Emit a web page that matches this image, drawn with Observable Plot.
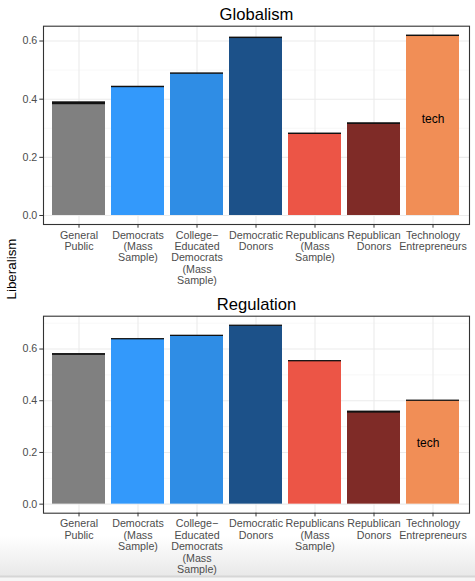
<!DOCTYPE html>
<html>
<head>
<meta charset="utf-8">
<script src="https://cdn.jsdelivr.net/npm/d3@7"></script>
<script src="https://cdn.jsdelivr.net/npm/@observablehq/plot@0.6"></script>
<style>
  html, body { margin: 0; padding: 0; }
  body {
    width: 475px; height: 581px; overflow: hidden;
    background: linear-gradient(to bottom, #ffffff 0px, #ffffff 536px, #e9e9e9 575px, #d6d6d6 576px, #d6d6d6 577px, #f6f6f6 578px, #f6f6f6 581px);
    font-family: "Liberation Sans", Arial, Helvetica, sans-serif;
  }
  #wrap { position: relative; width: 475px; }
  #ylab {
    position: absolute; left: 11px; top: 269px;
    transform: translate(-50%, -50%) rotate(-90deg);
    font-size: 13.4px; color: #000; white-space: nowrap;
  }
  svg { display: block; }
</style>
</head>
<body>
<div id="wrap">
  <div id="charts"></div>
  <div id="ylab">Liberalism</div>
</div>
<script>
const categories = ["General Public", "Democrats (Mass Sample)", "College-Educated Democrats (Mass Sample)", "Democratic Donors", "Republicans (Mass Sample)", "Republican Donors", "Technology Entrepreneurs"];
const tickLabels = ["General\nPublic", "Democrats\n(Mass\nSample)", "College\u2212\nEducated\nDemocrats\n(Mass\nSample)", "Democratic\nDonors", "Republicans\n(Mass\nSample)", "Republican\nDonors", "Technology\nEntrepreneurs"];
const colors = ["#808080", "#3399fb", "#2f8de5", "#1c5189", "#ec5546", "#7f2b27", "#f18e56"];

const globalismValues = [0.386, 0.442, 0.488, 0.611, 0.281, 0.316, 0.618];
const globalismErr    = [0.005, 0.0025, 0.0025, 0.0025, 0.0025, 0.003, 0.0025];
const regulationValues = [0.579, 0.638, 0.651, 0.690, 0.553, 0.356, 0.400];
const regulationErr    = [0.0035, 0.0025, 0.0025, 0.0025, 0.0025, 0.004, 0.0025];

const globalismTicks = [0, 0.2, 0.4, 0.6];
const globalismMinor = [0.1, 0.3, 0.5];
const regulationTicks = [0, 0.2, 0.4, 0.6];
const regulationMinor = [0.1, 0.3, 0.5, 0.7];

const techLabel = "tech";
const globalismTechY = 0.33;
const regulationTechY = 0.235;

function panel({title, values, errs, ticks, minor, domain, techY, techDx, height, marginBottom}) {
  const data = categories.map((c, i) => ({cat: c, value: values[i], lo: values[i] - errs[i], hi: values[i] + errs[i], color: colors[i]}));
  return Plot.plot({
    width: 475,
    height,
    marginTop: 25.7,
    marginBottom,
    marginLeft: 43,
    marginRight: 6,
    style: {background: "transparent", fontFamily: '"Liberation Sans", Arial, Helvetica, sans-serif', fontSize: "10.7px", color: "#4d4d4d", overflow: "visible"},
    x: {domain: categories, paddingInner: 0.1, paddingOuter: 0.15},
    y: {domain, label: null},
    marks: [
      Plot.gridY(minor, {stroke: "#f2f2f2", strokeOpacity: 1, strokeWidth: 0.6}),
      Plot.gridY(ticks, {stroke: "#ebebeb", strokeOpacity: 1, strokeWidth: 1.1}),
      Plot.gridX(categories, {stroke: "#ebebeb", strokeOpacity: 1, strokeWidth: 1.1}),
      Plot.barY(data, {x: "cat", y: "value", fill: "color"}),
      Plot.rectY(data, {x: "cat", y1: "lo", y2: "hi", fill: "#111111"}),
      Plot.text([{cat: categories[6], y: techY}], {x: "cat", y: "y", text: () => techLabel, fontSize: 12, fill: "#000", dx: techDx}),
      Plot.frame({stroke: "#333333", strokeWidth: 1.1}),
      Plot.text([title], {frameAnchor: "top", lineAnchor: "middle", dy: -12, fontSize: 16.6, fill: "#000"}),
      Plot.axisY({ticks, tickFormat: d3.format(".1f"), tickSize: 3.7, tickPadding: 2.5, stroke: "#333333", fill: "#4d4d4d", label: null}),
      Plot.axisX({tickFormat: (d) => tickLabels[categories.indexOf(d)], tickSize: 3.7, tickPadding: 2.2, stroke: "#333333", fill: "#4d4d4d", lineHeight: 1.07, label: null})
    ]
  });
}

const charts = document.getElementById("charts");
charts.appendChild(panel({
  title: "Globalism", values: globalismValues, errs: globalismErr,
  ticks: globalismTicks, minor: globalismMinor, domain: [-0.031, 0.651],
  techY: globalismTechY, techDx: 0, height: 290, marginBottom: 66
}));
charts.appendChild(panel({
  title: "Regulation", values: regulationValues, errs: regulationErr,
  ticks: regulationTicks, minor: regulationMinor, domain: [-0.035, 0.727],
  techY: regulationTechY, techDx: -5, height: 291, marginBottom: 68.3
}));
</script>
</body>
</html>
